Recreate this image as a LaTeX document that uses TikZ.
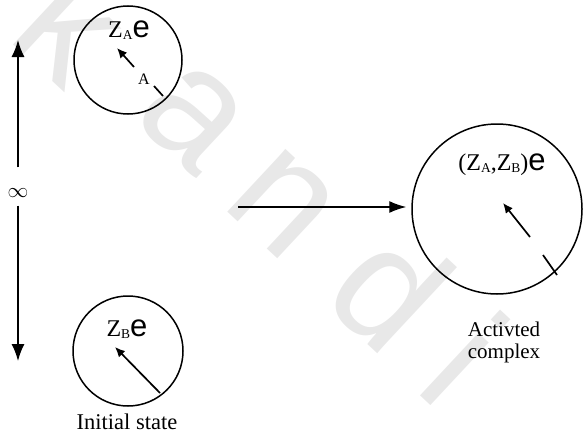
\documentclass[tikz,border=0pt]{standalone}
\usepackage{fontspec}
\setmainfont{Liberation Serif}
\newfontfamily\sansfont{Liberation Sans}
\usetikzlibrary{arrows.meta}
% charge label: Z with a subscript, followed by a large e
\newcommand\chlab[1]{{\fontsize{24}{24}\selectfont Z}{\fontsize{13.5}{13.5}\selectfont\raisebox{-2pt}{#1}}}
\newcommand\bigE{{\sansfont\fontsize{31}{31}\selectfont e}}
\newcommand\bigP[1]{{\fontsize{24}{24}\selectfont #1}}
\begin{document}
\begin{tikzpicture}[x=1pt,y=-1pt,
  ring/.style={circle,draw,line width=1.5pt,inner sep=0pt},
  vec/.style={line width=1.7pt,-{Latex[length=10pt,width=9pt]}},
  tick/.style={line width=1.7pt},
  bigarrow/.style={line width=1.4pt,-{Latex[length=17pt,width=12pt]}},
  wm/.style={text=black!9,font=\sansfont\fontsize{162}{162}\selectfont,rotate=-43,inner sep=0pt},
  caption/.style={font=\fontsize{21}{23}\selectfont,inner sep=0pt,anchor=base}]
\useasboundingbox (0,0) rectangle (585,444);

% faint lettering across the background
\node[wm] (wk) at (75,22) {k};
\node[wm] (wa) at (193,117) {a};
\node[wm] (wn) at (282,203) {n};
\node[wm] (wd) at (392,288) {d};
\node[wm] (wi) at (466,358) {i};

% the two separate ions and the activated complex
\node[ring,minimum size=108pt] (circA) at (128,60) {};
\node[ring,minimum size=110pt] (circB) at (128,351) {};
\node[ring,minimum size=170pt] (circC) at (497,209) {};

\node[inner sep=0pt] (labA) at (129,30) {\chlab{A}\bigE};
\node[inner sep=0pt] (labB) at (127,329) {\chlab{B}\bigE};
\node[inner sep=0pt] (labC) at (502,165) {\bigP{(}\chlab{A}\bigP{,}\chlab{B}\bigP{)}\bigE};
\node[inner sep=0pt,font=\fontsize{16}{16}\selectfont] (radA) at (144,79) {A};

% radius vectors
\coordinate (tailA) at (134,67);  \coordinate (tipA) at (117,48);
\coordinate (tickA1) at (154,86); \coordinate (tickA2) at (163,96);
\coordinate (tailB) at (160,393); \coordinate (tipB) at (115,347);
\coordinate (tailC) at (530,237); \coordinate (tipC) at (503,203);
\coordinate (tickC1) at (543,255); \coordinate (tickC2) at (557,275);
\draw[vec] (tailA) -- (tipA);
\draw[tick] (tickA1) -- (tickA2);
\draw[vec] (tailB) -- (tipB);
\draw[vec] (tailC) -- (tipC);
\draw[tick] (tickC1) -- (tickC2);

% approach of the ions
\coordinate (hs) at (238,207);
\draw[bigarrow] (hs) -- ([xshift=-5pt]hs -| circC.west);

% infinite separation
\node[inner sep=0pt,font=\fontsize{20}{20}\selectfont] (infty) at (18,193) {$\infty$};
\coordinate (vt) at (18,40);
\coordinate (vb) at (18,361);
\draw[bigarrow,-{Latex[length=17pt,width=13pt]}] ([yshift=21pt]infty.north) -- (vt);
\draw[bigarrow,-{Latex[length=17pt,width=13pt]}] ([yshift=-8pt]infty.south) -- (vb);

% captions
\node[caption,font=\fontsize{22.5}{24}\selectfont] (capB) at (127,429) {Initial state};
\node[caption] (capC1) at (504,336) {Activted};
\node[caption] (capC2) at (504,358) {complex};
\end{tikzpicture}
\end{document}
